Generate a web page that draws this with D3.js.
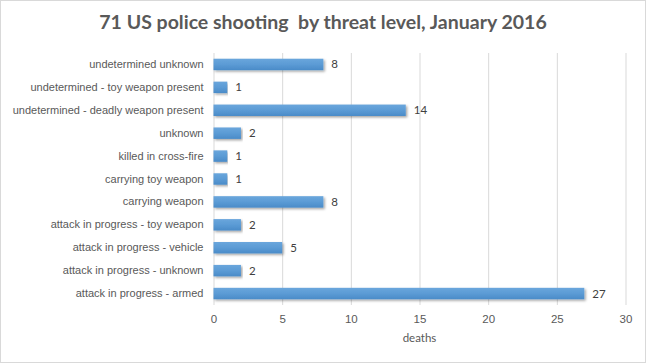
<!DOCTYPE html>
<html>
<head>
<meta charset="utf-8">
<script src="https://cdn.jsdelivr.net/npm/d3@7"></script>
<style>
  body { margin: 0; background: #fff; }
  svg { display: block; font-family: Lato, "Open Sans", sans-serif; }
</style>
</head>
<body>
<svg></svg>
<script>
const categories = [
    'undetermined unknown',
    'undetermined - toy weapon present',
    'undetermined - deadly weapon present',
    'unknown',
    'killed in cross-fire',
    'carrying toy weapon',
    'carrying weapon',
    'attack in progress - toy weapon',
    'attack in progress - vehicle',
    'attack in progress - unknown',
    'attack in progress - armed'
]
const deaths = [8, 1, 14, 2, 1, 1, 8, 2, 5, 2, 27]
const xTicks = [0, 5, 10, 15, 20, 25, 30]

const width = 646
const height = 363
const plotLeft = 213.5
const plotRight = 625.5
const plotTop = 53
const plotBottom = 305
const textColor = '#595959'

let svg = d3.select('svg')
    .attr('width', width)
    .attr('height', height)

// outer frame
svg.append('rect')
    .attr('x', 0.5).attr('y', 0.5)
    .attr('width', width - 1).attr('height', height - 1)
    .attr('fill', '#fff')
    .attr('stroke', '#d9d9d9')

let defs = svg.append('defs')
let grad = defs.append('linearGradient')
    .attr('id', 'barGrad')
    .attr('x1', 0).attr('y1', 0).attr('x2', 0).attr('y2', 1)
grad.append('stop').attr('offset', '0%').attr('stop-color', '#6aa6dc')
grad.append('stop').attr('offset', '50%').attr('stop-color', '#5b9bd5')
grad.append('stop').attr('offset', '100%').attr('stop-color', '#4a8bc8')

let shadow = defs.append('filter').attr('id', 'shadow')
    .attr('x', '-5%').attr('y', '-30%').attr('width', '110%').attr('height', '180%')
shadow.append('feDropShadow')
    .attr('dx', 1.5).attr('dy', 1.5).attr('stdDeviation', 1)
    .attr('flood-color', '#000').attr('flood-opacity', 0.35)

let xScale = d3.scaleLinear()
    .domain([0, 30])
    .range([plotLeft, plotRight])

let yScale = d3.scaleBand()
    .domain(categories)
    .range([plotTop, plotBottom])
    .paddingInner(0.5)
    .paddingOuter(0.25)

// title
svg.append('text')
    .attr('x', width / 2)
    .attr('y', 29)
    .attr('text-anchor', 'middle')
    .attr('fill', textColor)
    .style('font-size', '19.5px')
    .style('font-weight', 'bold')
    .style('white-space', 'pre')
    .text('71 US police shooting  by threat level, January 2016')

// grid
let xAxis = d3.axisBottom(xScale)
    .tickValues(xTicks)
    .tickSize(-(plotBottom - plotTop))
    .tickPadding(10)

let gx = svg.append('g')
    .attr('transform', 'translate(0,' + plotBottom + ')')
    .call(xAxis)
gx.select('.domain').remove()
gx.selectAll('line').attr('stroke', '#d9d9d9')
gx.selectAll('text')
    .attr('fill', textColor)
    .style('font-size', '11.5px')

// y axis labels
let yAxis = d3.axisLeft(yScale).tickSize(0).tickPadding(10)
let gy = svg.append('g')
    .attr('transform', 'translate(' + plotLeft + ',0)')
    .call(yAxis)
gy.select('.domain').remove()
gy.selectAll('text')
    .attr('fill', textColor)
    .style('font-size', '11px')

// bars
svg.selectAll('rect.bar')
    .data(deaths)
    .enter()
    .append('rect')
    .attr('class', 'bar')
    .attr('x', xScale(0))
    .attr('y', (d, i) => yScale(categories[i]))
    .attr('width', d => xScale(d) - xScale(0))
    .attr('height', yScale.bandwidth())
    .attr('fill', 'url(#barGrad)')
    .attr('filter', 'url(#shadow)')

// value labels
svg.selectAll('text.val')
    .data(deaths)
    .enter()
    .append('text')
    .attr('class', 'val')
    .attr('x', d => xScale(d) + 8)
    .attr('y', (d, i) => yScale(categories[i]) + yScale.bandwidth() / 2)
    .attr('dy', '0.35em')
    .attr('fill', '#404040')
    .style('font-size', '11.5px')
    .text(d => d)

// axis title
svg.append('text')
    .attr('x', (plotLeft + plotRight) / 2)
    .attr('y', 342)
    .attr('text-anchor', 'middle')
    .attr('fill', textColor)
    .style('font-size', '11.5px')
    .text('deaths')
</script>
</body>
</html>
